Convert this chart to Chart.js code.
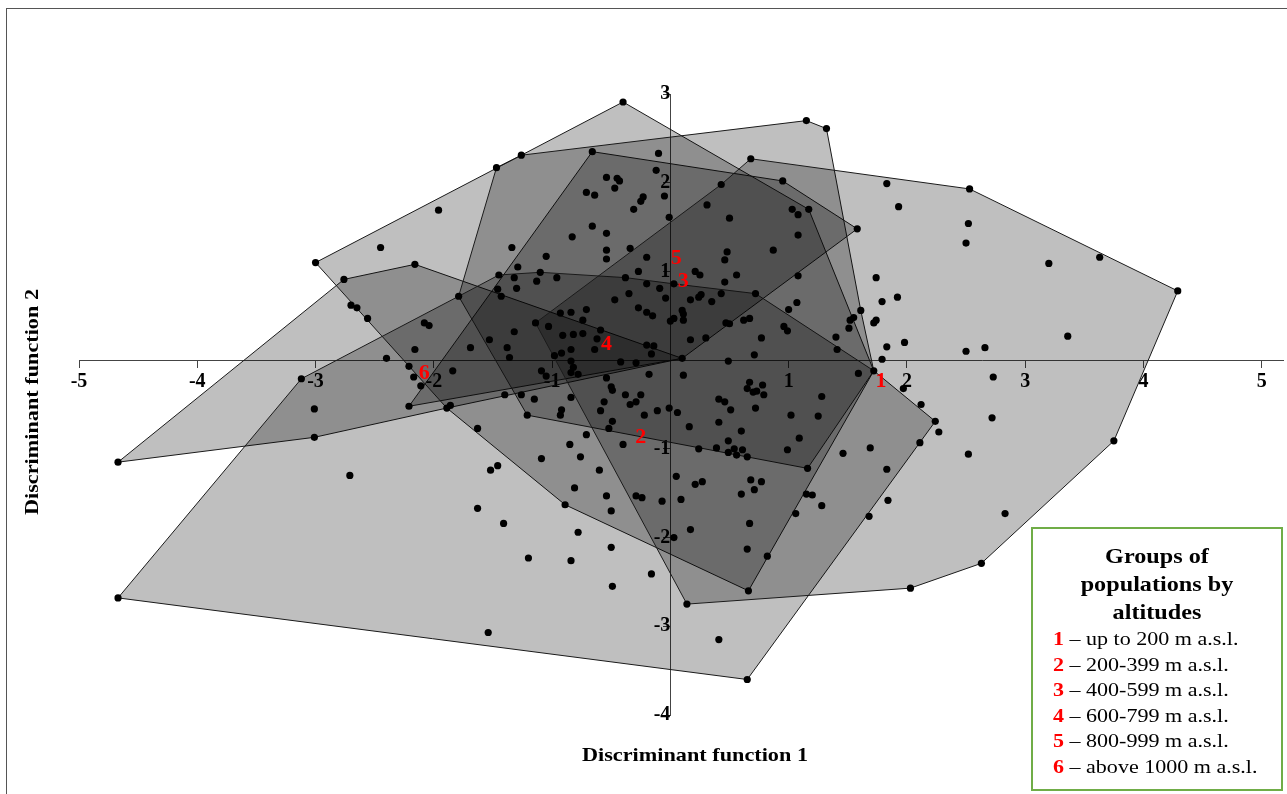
<!DOCTYPE html>
<html>
<head>
<meta charset="utf-8">
<script src="https://cdn.jsdelivr.net/npm/chart.js@4.4.1/dist/chart.umd.min.js"></script>
<style>
  body { margin: 0; background: #fff; }
  #wrap { position: relative; width: 1287px; height: 794px; overflow: hidden; }
  #chart { position: absolute; left: 0; top: 0; }
  .frame { position: absolute; left: 6px; top: 8px; width: 1300px; height: 800px; border: 1px solid #555; box-sizing: border-box; pointer-events: none; }
  .axis-title { position: absolute; font: bold 19px "Liberation Serif", serif; color: #000; white-space: nowrap; }
  #xtitle { left: 695px; top: 744px; transform: translateX(-50%) scaleX(1.17); }
  #ytitle { left: 32px; top: 402px; transform: translate(-50%, -50%) rotate(-90deg) scaleX(1.17); }
  #legend { position: absolute; left: 1031px; top: 527px; width: 252px; height: 264px; border: 2px solid #70ad47; box-sizing: border-box; background: #fff; font-family: "Liberation Serif", serif; }
  #legend .head { text-align: center; font-weight: bold; font-size: 22px; line-height: 28px; margin-top: 13px; transform: scaleX(1.1); }
  #legend .item { font-size: 19px; line-height: 25.6px; padding-left: 20px; white-space: nowrap; transform: scaleX(1.16); transform-origin: 20px 50%; }
  #legend .num { color: #f00; font-weight: bold; }
</style>
</head>
<body>
<div id="wrap">
  <canvas id="chart" width="1287" height="794"></canvas>
  <div class="frame"></div>
  <div class="axis-title" id="xtitle">Discriminant function 1</div>
  <div class="axis-title" id="ytitle">Discriminant function 2</div>
  <div id="legend">
    <div class="head">Groups of<br>populations by<br>altitudes</div>
    <div id="legend-items"></div>
  </div>
</div>
<script>
// axis limits and tick values
const xRange = [-5, 5.18];
const yRange = [-4, 3];
const xTicks = [-5, -4, -3, -2, -1, 1, 2, 3, 4, 5];
const yTicks = [-4, -3, -2, -1, 1, 2, 3];

// groups: number, legend text, position of the red label (group centroid)
const groupNames = ['1', '2', '3', '4', '5', '6'];
const groupText = ['up to 200 m a.s.l.', '200-399 m a.s.l.', '400-599 m a.s.l.',
  '600-799 m a.s.l.', '800-999 m a.s.l.', 'above 1000 m a.s.l.'];
const groupCentres = [[1.78, -0.24], [-0.25, -0.87], [0.11, 0.89], [-0.54, 0.18], [0.05, 1.15], [-2.08, -0.15]];

// convex hulls of each group (vertices in order)
const hull1 = [[-1.14, 0.42], [0.43, 1.98], [0.68, 2.27], [2.53, 1.93], [4.29, 0.78], [3.75, -0.91],
  [2.63, -2.29], [2.03, -2.57], [0.14, -2.75]];
const hull2 = [[-4.67, -2.68], [0.65, -3.60], [2.24, -0.69], [1.72, -0.12], [0.72, 0.75], [0.03, 0.86],
  [-0.38, 0.93], [-1.10, 0.99], [-1.45, 0.96], [-1.79, 0.72], [-3.12, -0.21]];
const hull3 = [[-1.79, 0.72], [-1.47, 2.17], [-1.26, 2.31], [1.15, 2.70], [1.32, 2.61], [1.61, 0.56],
  [1.72, -0.12], [1.16, -1.22], [-1.21, -0.62]];
const hull4 = [[-3.00, 1.10], [-1.26, 2.31], [-0.40, 2.91], [1.17, 1.70], [1.72, -0.12], [0.66, -2.60],
  [-0.89, -1.63], [-1.89, -0.54]];
const hull5 = [[-0.66, 2.35], [0.95, 2.02], [1.58, 1.48], [0.10, 0.02], [-2.21, -0.52]];
const hull6 = [[-4.67, -1.15], [-2.76, 0.91], [-2.16, 1.08], [0.10, 0.02], [-1.89, -0.54], [-3.01, -0.87]];
const hulls = [hull1, hull2, hull3, hull4, hull5, hull6];

// individual populations (discriminant scores)
const points = [
  [-1.14, 0.42], [0.43, 1.98], [0.68, 2.27], [2.53, 1.93], [4.29, 0.78], [3.75, -0.91], [2.63, -2.29],
  [2.03, -2.57], [0.14, -2.75], [-4.67, -2.68], [0.65, -3.60], [2.24, -0.69], [1.72, -0.12], [0.72, 0.75],
  [0.03, 0.86], [-0.38, 0.93], [-1.10, 0.99], [-1.45, 0.96], [-1.79, 0.72], [-3.12, -0.21], [-1.47, 2.17],
  [-1.26, 2.31], [1.15, 2.70], [1.32, 2.61], [1.61, 0.56], [1.16, -1.22], [-1.21, -0.62], [-3.00, 1.10],
  [-0.40, 2.91], [1.17, 1.70], [0.66, -2.60], [-0.89, -1.63], [-1.89, -0.54], [-0.66, 2.35], [0.95, 2.02],
  [1.58, 1.48], [0.10, 0.02], [-2.21, -0.52], [-4.67, -1.15], [-2.76, 0.91], [-2.16, 1.08], [-3.01, -0.87],
  [-0.10, 2.33], [-0.12, 2.14], [-0.54, 2.06], [-0.45, 2.05], [-0.43, 2.02], [-0.47, 1.94], [-0.05, 1.85],
  [-0.71, 1.89], [-0.64, 1.86], [-0.23, 1.84], [-0.25, 1.79], [-0.31, 1.70], [-1.96, 1.69], [-0.01, 1.61],
  [-0.66, 1.51], [-0.54, 1.43], [-0.83, 1.39], [-2.45, 1.27], [-1.34, 1.27], [-0.54, 1.24], [-0.34, 1.26],
  [-0.54, 1.14], [-1.05, 1.17], [-0.20, 1.16], [-1.29, 1.05], [-0.27, 1.00], [-1.32, 0.93], [-0.96, 0.93],
  [-1.13, 0.89], [-0.20, 0.86], [-0.09, 0.81], [-1.46, 0.80], [-1.43, 0.72], [-1.30, 0.81], [-0.35, 0.75],
  [-0.47, 0.68], [-0.04, 0.70],
  [1.83, 1.99], [0.31, 1.75], [0.50, 1.60], [1.03, 1.70], [1.08, 1.64], [1.93, 1.73], [1.08, 1.41],
  [2.52, 1.54], [2.50, 1.32], [0.48, 1.22], [0.46, 1.13], [0.87, 1.24], [0.21, 1.00], [0.25, 0.96],
  [0.56, 0.96], [0.46, 0.88], [1.08, 0.95], [1.74, 0.93], [0.43, 0.75], [0.26, 0.74], [0.24, 0.71],
  [0.17, 0.68], [0.35, 0.66], [1.07, 0.65], [1.79, 0.66], [1.92, 0.71],
  [3.63, 1.16], [3.20, 1.09], [2.66, 0.14], [3.36, 0.27], [2.73, -0.19], [2.72, -0.65], [2.83, -1.73],
  [0.10, 0.56], [0.11, 0.52], [0.11, 0.45], [0.03, 0.47], [0.47, 0.42], [0.50, 0.41], [0.62, 0.45],
  [0.67, 0.47], [1.00, 0.57], [0.96, 0.38], [0.99, 0.33], [0.77, 0.25], [0.17, 0.23], [0.30, 0.25],
  [0.49, -0.01], [0.71, 0.06], [1.40, 0.26], [1.41, 0.12], [1.52, 0.45], [1.55, 0.48], [1.51, 0.36],
  [1.72, 0.42], [1.74, 0.45], [1.83, 0.15], [1.98, 0.20], [1.79, 0.01], [2.50, 0.10], [1.59, -0.15],
  [1.97, -0.32], [0.11, -0.17], [0.67, -0.25], [0.65, -0.32], [0.78, -0.28], [0.70, -0.36], [0.73, -0.35],
  [0.79, -0.39], [0.41, -0.44], [0.46, -0.47], [0.51, -0.56], [0.72, -0.54], [1.28, -0.41], [0.06, -0.59],
  [1.02, -0.62], [1.25, -0.63], [2.12, -0.50], [2.27, -0.81], [0.16, -0.75], [0.41, -0.70], [0.60, -0.80],
  [1.09, -0.88], [0.49, -0.91], [0.24, -1.00], [0.39, -0.99], [0.49, -1.04], [0.54, -1.00], [0.56, -1.07],
  [0.61, -1.01], [0.65, -1.09], [0.99, -1.01], [1.46, -1.05], [1.69, -0.99], [2.52, -1.06], [1.83, -1.23],
  [0.05, -1.31], [0.21, -1.40], [0.27, -1.37], [0.68, -1.35], [0.77, -1.37], [0.71, -1.46], [0.60, -1.51],
  [1.15, -1.51], [1.20, -1.52], [2.11, -0.93], [1.84, -1.58], [1.28, -1.64], [0.09, -1.57], [1.06, -1.73],
  [1.68, -1.76], [0.67, -1.84],
  [-2.08, 0.42], [-2.04, 0.39], [-2.16, 0.12], [-2.40, 0.02], [-2.21, -0.07], [-2.17, -0.19], [-2.11, -0.29],
  [-1.84, -0.12], [-1.69, 0.14], [-1.53, 0.23], [-1.32, 0.32], [-1.38, 0.14], [-1.36, 0.03], [-1.03, 0.38],
  [-0.93, 0.53], [-0.84, 0.54], [-0.71, 0.57], [-0.74, 0.45], [-0.91, 0.28], [-0.82, 0.29], [-0.74, 0.30],
  [-0.59, 0.34], [-0.62, 0.24], [-0.84, 0.12], [-0.92, 0.08], [-0.98, 0.05], [-0.64, 0.12], [-0.27, 0.59],
  [-0.20, 0.54], [-0.15, 0.50], [0.00, 0.44], [-0.20, 0.17], [-0.14, 0.16], [-0.16, 0.07], [-0.42, -0.02],
  [-0.29, -0.03], [-0.84, -0.01], [-0.82, -0.08], [-0.78, -0.16], [-0.84, -0.14], [-1.09, -0.12],
  [-1.05, -0.18], [-0.54, -0.20], [-0.18, -0.16], [-0.50, -0.30], [-0.49, -0.34], [-0.38, -0.39],
  [-0.25, -0.39], [-0.29, -0.47], [-0.34, -0.50], [-0.56, -0.47], [-0.84, -0.42], [-1.15, -0.44],
  [-1.26, -0.39], [-1.40, -0.39], [-0.59, -0.57], [-0.11, -0.57], [-0.01, -0.54], [-0.22, -0.62],
  [-0.49, -0.69], [-0.52, -0.77], [-0.92, -0.56], [-0.93, -0.62], [-1.86, -0.51], [-1.63, -0.77],
  [-0.85, -0.95], [-0.71, -0.84], [-0.40, -0.95], [-0.76, -1.09], [-1.09, -1.11], [-0.60, -1.24],
  [-1.52, -1.24], [-1.46, -1.19], [-0.81, -1.44], [-0.29, -1.53], [-0.24, -1.55], [-0.54, -1.53],
  [-0.07, -1.59], [-0.50, -1.70], [-1.63, -1.67], [-1.41, -1.84],
  [-0.78, -1.94], [-0.50, -2.11], [-1.20, -2.23], [-0.84, -2.26], [-0.16, -2.41], [-0.49, -2.55],
  [-1.54, -3.07], [0.03, -2.00], [0.17, -1.91], [0.65, -2.13], [0.82, -2.21], [0.41, -3.15],
  [-3.01, -0.55], [-2.71, -1.30], [-2.70, 0.62], [-2.65, 0.59], [-2.56, 0.47]
];

const serif = '"Liberation Serif", "Times New Roman", serif';

// legend entries
document.getElementById('legend-items').innerHTML = groupNames.map((n, i) =>
  `<div class="item"><span class="num">${n}</span> – ${groupText[i]}</div>`).join('');

// red group numbers at the centroids
const groupLabels = {
  id: 'groupLabels',
  afterDatasetsDraw(chart) {
    const { ctx, scales } = chart;
    ctx.save();
    ctx.fillStyle = '#ff0000';
    ctx.font = `bold 22px ${serif}`;
    ctx.textAlign = 'center';
    ctx.textBaseline = 'middle';
    groupCentres.forEach((c, i) => {
      ctx.fillText(groupNames[i], scales.x.getPixelForValue(c[0]), scales.y.getPixelForValue(c[1]));
    });
    ctx.restore();
  }
};

const toXY = arr => arr.map(p => ({ x: p[0], y: p[1] }));

const datasets = [{
  label: 'populations',
  data: toXY(points),
  pointRadius: 3.6,
  pointBackgroundColor: '#000',
  pointBorderWidth: 0,
  order: 0
}];
hulls.forEach((h, i) => {
  datasets.push({
    label: 'group ' + groupNames[i],
    data: toXY(h.concat([h[0]])),
    showLine: true,
    fill: 'shape',
    backgroundColor: 'rgba(0,0,0,0.25)',
    borderColor: '#1a1a1a',
    borderWidth: 1,
    pointRadius: 0,
    tension: 0,
    order: 1
  });
});

const keepTicks = list => axis => {
  axis.ticks = list.map(v => ({ value: v }));
};

new Chart(document.getElementById('chart'), {
  type: 'scatter',
  data: { datasets },
  options: {
    responsive: false,
    animation: false,
    layout: { padding: { left: 79, right: 2, top: 94, bottom: 79 } },
    plugins: { legend: { display: false }, tooltip: { enabled: false } },
    scales: {
      x: {
        type: 'linear',
        min: xRange[0],
        max: xRange[1],
        position: { y: 0 },
        afterBuildTicks: keepTicks(xTicks),
        grid: { drawOnChartArea: false, tickLength: 7, tickColor: '#444' },
        border: { color: '#444', width: 1 },
        ticks: { color: '#000', padding: 3, font: { family: serif, size: 20, weight: 'bold' } }
      },
      y: {
        type: 'linear',
        min: yRange[0],
        max: yRange[1],
        position: { x: 0 },
        afterBuildTicks: keepTicks(yTicks),
        grid: { drawOnChartArea: false, tickLength: 7, tickColor: '#444' },
        border: { color: '#444', width: 1 },
        ticks: { color: '#000', padding: 9, font: { family: serif, size: 20, weight: 'bold' } }
      }
    }
  },
  plugins: [groupLabels]
});
</script>
</body>
</html>
